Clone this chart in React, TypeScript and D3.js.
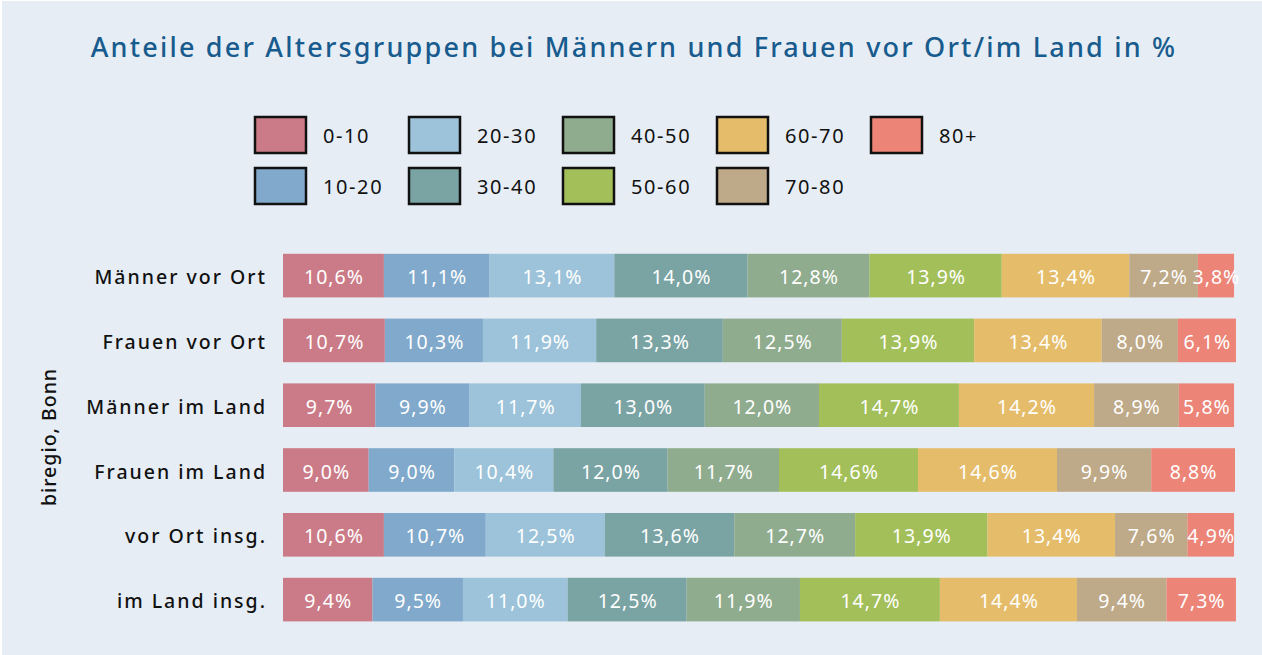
import React from "react";
import * as d3 from "d3";

const categories = [
  "Männer vor Ort",
  "Frauen vor Ort",
  "Männer im Land",
  "Frauen im Land",
  "vor Ort insg.",
  "im Land insg.",
];
const ageGroups = ["0-10", "10-20", "20-30", "30-40", "40-50", "50-60", "60-70", "70-80", "80+"];
const groupColors = ["#cb7b87", "#80a9cb", "#9cc3d9", "#7aa3a3", "#8fac8e", "#a3bf5a", "#e5bd6a", "#bea988", "#ec8478"];

const maennerVorOrt = [10.6, 11.1, 13.1, 14.0, 12.8, 13.9, 13.4, 7.2, 3.8];
const frauenVorOrt = [10.7, 10.3, 11.9, 13.3, 12.5, 13.9, 13.4, 8.0, 6.1];
const maennerImLand = [9.7, 9.9, 11.7, 13.0, 12.0, 14.7, 14.2, 8.9, 5.8];
const frauenImLand = [9.0, 9.0, 10.4, 12.0, 11.7, 14.6, 14.6, 9.9, 8.8];
const vorOrtInsg = [10.6, 10.7, 12.5, 13.6, 12.7, 13.9, 13.4, 7.6, 4.9];
const imLandInsg = [9.4, 9.5, 11.0, 12.5, 11.9, 14.7, 14.4, 9.4, 7.3];

const rowsValues = [maennerVorOrt, frauenVorOrt, maennerImLand, frauenImLand, vorOrtInsg, imLandInsg];

const title = "Anteile der Altersgruppen bei Männern und Frauen vor Ort/im Land in %";
const yTitle = "biregio, Bonn";

const W = 1262;
const H = 655;
const FONT = "'Noto Sans', 'Open Sans', sans-serif";

export default function App() {
  const x = d3.scaleLinear().domain([0, 100]).range([283, 1235]);
  const y = d3
    .scaleBand<string>()
    .domain(categories)
    .range([243.2, 632])
    .paddingInner(0.327)
    .paddingOuter(0.1635);

  const fmt = (v: number) => v.toFixed(1).replace(".", ",") + "%";

  const rows = categories.map((cat, i) => {
    const vals = rowsValues[i];
    const cum = d3.cumsum(vals);
    return vals.map((v, j) => ({
      cat,
      group: ageGroups[j],
      color: groupColors[j],
      v,
      x0: j === 0 ? 0 : cum[j - 1],
      x1: cum[j],
    }));
  });

  const legendX0 = 255;
  const legendColStep = 154;
  const legendY0 = 117;
  const legendRowStep = 51;

  const catSpacing = 2;

  return (
    <div style={{ position: "absolute", left: 0, top: 0 }}>
      <svg width={W} height={H} style={{ display: "block" }}>
        <rect x={0} y={0} width={W} height={H} fill="#ffffff" />
        <rect x={2} y={1} width={W - 2} height={H - 1} fill="#e6edf4" />
        <text
          x={634}
          y={57}
          textAnchor="middle"
          fontFamily={FONT}
          fontSize={27}
          fontWeight={500}
          letterSpacing={2.2}
          fill="#185b8e"
        >
          {title}
        </text>

        {ageGroups.map((g, j) => {
          const c = Math.floor(j / 2);
          const r = j % 2;
          const bx = legendX0 + c * legendColStep;
          const by = legendY0 + r * legendRowStep;
          return (
            <g key={g}>
              <rect x={bx} y={by} width={51} height={36} fill={groupColors[j]} stroke="#111" strokeWidth={2.5} />
              <text
                x={bx + 68}
                y={by + 18}
                dominantBaseline="central"
                fontFamily={FONT}
                fontSize={20}
                letterSpacing={1.6}
                fill="#111"
              >
                {g}
              </text>
            </g>
          );
        })}

        {rows.map((segs, i) => (
          <g key={categories[i]}>
            {segs.map((s) => (
              <rect
                key={s.group}
                x={x(s.x0)}
                y={y(s.cat)!}
                width={x(s.x1) - x(s.x0)}
                height={y.bandwidth()}
                fill={s.color}
              />
            ))}
            {segs.map((s) => (
              <text
                key={s.group + "-l"}
                x={(x(s.x0) + x(s.x1)) / 2 + 0.5}
                y={y(s.cat)! + y.bandwidth() / 2 + 1}
                textAnchor="middle"
                dominantBaseline="central"
                fontFamily={FONT}
                fontSize={19.5}
                letterSpacing={1}
                fill="#ffffff"
              >
                {fmt(s.v)}
              </text>
            ))}
            <text
              x={265 + catSpacing}
              y={y(categories[i])! + y.bandwidth() / 2 + 1}
              textAnchor="end"
              dominantBaseline="central"
              fontFamily={FONT}
              fontSize={19.5}
              fontWeight={500}
              letterSpacing={catSpacing}
              fill="#111"
            >
              {categories[i]}
            </text>
          </g>
        ))}

        <text
          transform={`translate(48, 437) rotate(-90)`}
          textAnchor="middle"
          dominantBaseline="central"
          fontFamily={FONT}
          fontSize={19.5}
          fontWeight={500}
          letterSpacing={1}
          fill="#111"
        >
          {yTitle}
        </text>
      </svg>
    </div>
  );
}
